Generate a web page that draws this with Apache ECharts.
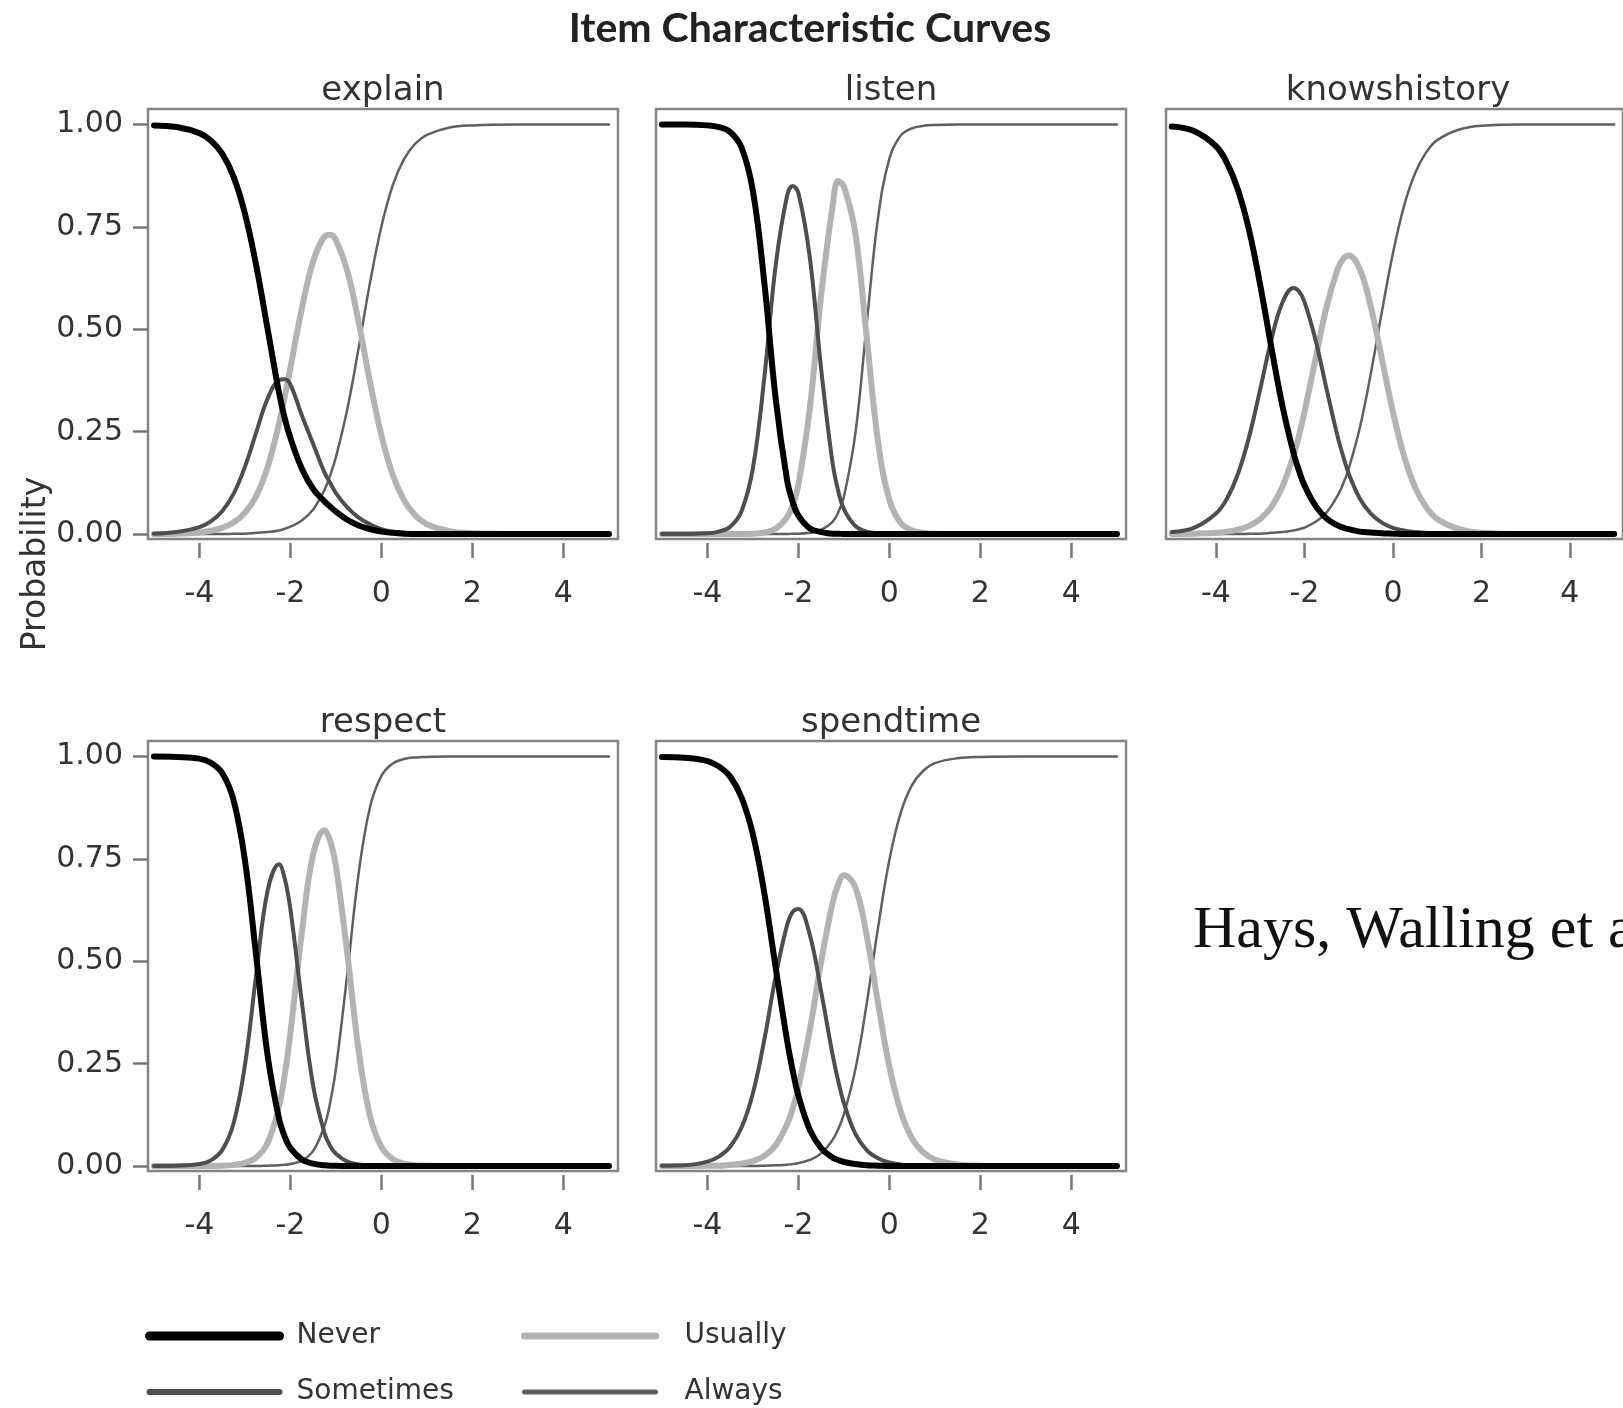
<!DOCTYPE html>
<html>
<head>
<meta charset="utf-8">
<script src="https://cdn.jsdelivr.net/npm/echarts@6/dist/echarts.min.js"></script>
<style>
html,body{margin:0;padding:0;background:#ffffff;}
#chart{width:1623px;height:1408px;}
</style>
</head>
<body>
<div id="chart"></div>
<script>
// ---------- data ----------
const theta = [-5,-4.5,-4,-3.75,-3.5,-3.25,-3,-2.75,-2.5,-2.25,-2.125,-2,-1.75,-1.5,-1.25,-1.125,-1,-0.75,-0.5,-0.25,0,0.25,0.5,0.75,1,1.5,2,3,4,5];
const panelNames = ['explain','listen','knowshistory','respect','spendtime'];
const categoryNames = ['Never','Sometimes','Usually','Always'];
const xTickValues = [-4,-2,0,2,4];
const yTickValues = [0,0.25,0.5,0.75,1];

const explainNever     = [0.998,0.994,0.979,0.961,0.929,0.873,0.783,0.655,0.5,0.345,0.283,0.235,0.16,0.11,0.08,0.067,0.055,0.035,0.021,0.012,0.006,0.003,0.001,0,0,0,0,0,0,0];
const explainSometimes = [0.001,0.005,0.017,0.031,0.056,0.098,0.164,0.249,0.331,0.376,0.378,0.365,0.29,0.22,0.15,0.125,0.10,0.065,0.04,0.024,0.012,0.006,0.003,0.001,0.001,0,0,0,0,0];
const explainUsually   = [0,0.001,0.004,0.008,0.015,0.028,0.052,0.093,0.164,0.27,0.335,0.406,0.55,0.666,0.727,0.731,0.718,0.643,0.517,0.371,0.241,0.144,0.082,0.045,0.024,0.007,0.002,0,0,0];
const explainAlways    = [0,0,0,0,0,0.001,0.001,0.003,0.005,0.009,0.013,0.018,0.033,0.06,0.108,0.144,0.188,0.305,0.455,0.614,0.751,0.852,0.916,0.954,0.975,0.993,0.998,1,1,1];

const listenNever     = [1,1,0.998,0.994,0.982,0.944,0.838,0.615,0.331,0.132,0.078,0.045,0.014,0.005,0.001,0.001,0,0,0,0,0,0,0,0,0,0,0,0,0,0];
const listenSometimes = [0,0,0.002,0.006,0.018,0.056,0.161,0.381,0.656,0.826,0.85,0.833,0.676,0.403,0.174,0.105,0.061,0.02,0.006,0.002,0.001,0,0,0,0,0,0,0,0,0];
const listenUsually   = [0,0,0,0,0,0,0.001,0.004,0.013,0.041,0.071,0.121,0.307,0.584,0.8,0.862,0.848,0.736,0.482,0.226,0.083,0.027,0.009,0.003,0.001,0,0,0,0,0];
const listenAlways    = [0,0,0,0,0,0,0,0,0,0,0.001,0.001,0.003,0.01,0.03,0.053,0.091,0.244,0.512,0.772,0.917,0.973,0.991,0.997,0.999,1,1,1,1,1];

const knowshistoryNever     = [0.995,0.984,0.947,0.906,0.84,0.741,0.608,0.457,0.314,0.199,0.155,0.119,0.069,0.038,0.021,0.016,0.012,0.006,0.004,0.002,0.001,0,0,0,0,0,0,0,0,0];
const knowshistorySometimes = [0.005,0.015,0.05,0.087,0.148,0.238,0.354,0.474,0.565,0.601,0.593,0.567,0.474,0.354,0.238,0.19,0.148,0.087,0.05,0.028,0.015,0.009,0.005,0.003,0.001,0,0,0,0,0];
const knowshistoryUsually   = [0,0.001,0.003,0.006,0.011,0.02,0.037,0.066,0.116,0.191,0.24,0.298,0.428,0.555,0.647,0.672,0.68,0.647,0.555,0.428,0.298,0.191,0.114,0.066,0.037,0.012,0.003,0,0,0];
const knowshistoryAlways    = [0,0,0,0,0,0.001,0.001,0.003,0.005,0.009,0.012,0.016,0.03,0.053,0.094,0.123,0.16,0.259,0.392,0.543,0.686,0.801,0.881,0.932,0.962,0.988,0.997,1,1,1];

const respectNever     = [1,0.999,0.995,0.985,0.96,0.894,0.747,0.511,0.269,0.115,0.072,0.044,0.016,0.006,0.002,0.001,0.001,0,0,0,0,0,0,0,0,0,0,0,0,0];
const respectSometimes = [0,0.001,0.005,0.014,0.039,0.104,0.246,0.469,0.673,0.737,0.702,0.627,0.402,0.196,0.08,0.049,0.03,0.011,0.004,0.001,0,0,0,0,0,0,0,0,0,0];
const respectUsually   = [0,0,0,0,0.001,0.003,0.008,0.021,0.057,0.146,0.223,0.325,0.569,0.761,0.82,0.794,0.733,0.52,0.282,0.122,0.047,0.017,0.006,0.002,0.001,0,0,0,0,0];
const respectAlways    = [0,0,0,0,0,0,0,0,0.001,0.002,0.003,0.005,0.013,0.037,0.099,0.156,0.237,0.469,0.715,0.877,0.953,0.983,0.994,0.998,0.999,1,1,1,1,1];

const spendtimeNever     = [0.999,0.997,0.989,0.976,0.951,0.9,0.81,0.667,0.485,0.307,0.233,0.172,0.089,0.044,0.021,0.015,0.01,0.005,0.002,0.001,0,0,0,0,0,0,0,0,0,0];
const spendtimeSometimes = [0.001,0.002,0.011,0.023,0.047,0.094,0.178,0.308,0.463,0.588,0.621,0.628,0.565,0.426,0.273,0.208,0.154,0.079,0.039,0.019,0.009,0.004,0.002,0.001,0,0,0,0,0,0];
const spendtimeUsually   = [0,0,0.001,0.001,0.003,0.006,0.012,0.025,0.051,0.102,0.141,0.192,0.332,0.499,0.642,0.688,0.71,0.681,0.563,0.398,0.243,0.133,0.067,0.033,0.016,0.004,0.001,0,0,0];
const spendtimeAlways    = [0,0,0,0,0,0,0,0.001,0.002,0.003,0.005,0.007,0.015,0.031,0.064,0.09,0.127,0.235,0.396,0.582,0.748,0.863,0.931,0.966,0.984,0.996,0.999,1,1,1];

const panelCurves = [
  [explainNever, explainSometimes, explainUsually, explainAlways],
  [listenNever, listenSometimes, listenUsually, listenAlways],
  [knowshistoryNever, knowshistorySometimes, knowshistoryUsually, knowshistoryAlways],
  [respectNever, respectSometimes, respectUsually, respectAlways],
  [spendtimeNever, spendtimeSometimes, spendtimeUsually, spendtimeAlways]
];

// ---------- layout & style ----------
const gridPos = [[148,109],[656,109],[1166,109],[148,741],[656,741]];
const GW = 470, GH = 430;
const titleCenters = [[383,92],[891,92],[1398,92],[383,724],[891,724]];
const curveStyles = [
  {color:'#000000', width:6,   z:5},
  {color:'#4e4e4e', width:4,   z:4},
  {color:'#b3b3b3', width:6,   z:3},
  {color:'#606060', width:2.5, z:2}
];
const FONT = '"DejaVu Sans", "Noto Sans", sans-serif';
const TXT = '#333333';

const grids = [], xAxes = [], yAxes = [], series = [], titles = [];

titles.push({
  text: 'Item Characteristic Curves',
  left: 810, top: 8, textAlign: 'center', padding: 0,
  textStyle: {fontFamily: 'Lato, "DejaVu Sans", sans-serif', fontWeight: 'bold', fontSize: 41, color: '#222222'}
});

gridPos.forEach((p, i) => {
  grids.push({left: p[0], top: p[1], width: GW, height: GH, show: true,
    borderColor: '#848484', borderWidth: 2.5, backgroundColor: 'transparent', containLabel: false});
  const leftCol = (i === 0 || i === 3);
  xAxes.push({
    gridIndex: i, type: 'value', min: -5.13, max: 5.2, offset: 4,
    axisLine: {show: false, onZero: false},
    splitLine: {show: false},
    axisTick: {show: true, length: 15, customValues: xTickValues, lineStyle: {color: '#777777', width: 2.5}},
    axisLabel: {show: true, customValues: xTickValues, margin: 36, fontSize: 30, fontFamily: FONT, color: TXT,
      formatter: v => String(v)}
  });
  yAxes.push({
    gridIndex: i, type: 'value', min: -0.012, max: 1.038,
    axisLine: {show: false, onZero: false},
    splitLine: {show: false},
    axisTick: {show: leftCol, length: 15, customValues: yTickValues, lineStyle: {color: '#777777', width: 2.5}},
    axisLabel: {show: leftCol, customValues: yTickValues, margin: 25, fontSize: 30, fontFamily: FONT, color: TXT,
      formatter: v => v.toFixed(2)}
  });
  titles.push({
    text: panelNames[i], left: titleCenters[i][0], top: titleCenters[i][1] - 18, textAlign: 'center', padding: 0,
    textStyle: {fontFamily: FONT, fontWeight: 'normal', fontSize: 34, color: TXT}
  });
  panelCurves[i].forEach((vals, k) => {
    const st = curveStyles[k];
    series.push({
      name: categoryNames[k], type: 'line', xAxisIndex: i, yAxisIndex: i,
      data: theta.map((t, j) => [t, vals[j]]),
      smooth: 0.4, symbol: 'none', showSymbol: false, z: st.z,
      lineStyle: {color: st.color, width: st.width, cap: 'round', join: 'round'},
      itemStyle: {color: st.color},
      emphasis: {disabled: true}, silent: true, animation: false
    });
  });
});

const legendBase = {orient: 'vertical', top: 1321, padding: 0, itemHeight: 14, itemGap: 26,
  selectedMode: false, itemStyle: {opacity: 0}};
const option = {
  backgroundColor: '#ffffff',
  animation: false,
  title: titles,
  grid: grids,
  xAxis: xAxes,
  yAxis: yAxes,
  series: series,
  legend: [
    Object.assign({}, legendBase, {left: 145, itemWidth: 130,
      textStyle: {fontFamily: FONT, fontSize: 28, color: TXT, lineHeight: 30, padding: [0,0,0,12]},
      data: [{name: 'Never', lineStyle: {width: 9}}, {name: 'Sometimes', lineStyle: {width: 6}}]}),
    Object.assign({}, legendBase, {left: 521, itemWidth: 131,
      textStyle: {fontFamily: FONT, fontSize: 28, color: TXT, lineHeight: 30, padding: [0,0,0,24]},
      data: [{name: 'Usually', lineStyle: {width: 7}}, {name: 'Always', lineStyle: {width: 5}}]})
  ],
  graphic: [
    {type: 'text', x: 36, y: 564, rotation: Math.PI / 2,
     style: {text: 'Probability', font: '33px "DejaVu Sans", sans-serif', fill: TXT, align: 'center', verticalAlign: 'middle'}},
    {type: 'text', x: 1193, y: 931,
     style: {text: 'Hays, Walling et al.', font: '60px "Liberation Serif", "DejaVu Serif", serif', fill: '#111111', align: 'left', verticalAlign: 'middle'}}
  ]
};

const chart = echarts.init(document.getElementById('chart'), null, {renderer: 'canvas', width: 1623, height: 1408});
chart.setOption(option);
</script>
</body>
</html>
